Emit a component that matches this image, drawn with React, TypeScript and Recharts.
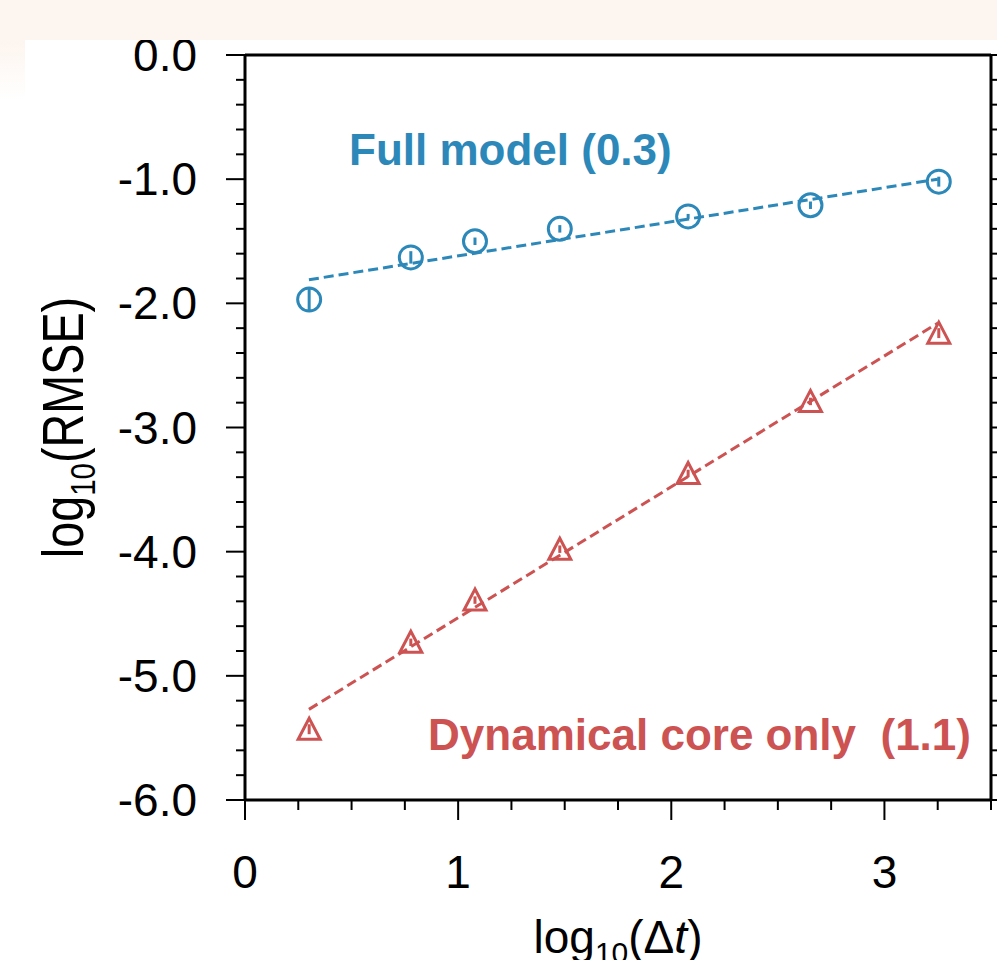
import React from 'react';
import { ComposedChart, Scatter, Line, XAxis, YAxis, ReferenceLine, ReferenceDot, Label, ErrorBar } from 'recharts';

// log10 of the time step for each run
const logDt = [0.301, 0.778, 1.079, 1.477, 2.079, 2.653, 3.255];

// full model
const fullRmse = [-1.97, -1.63, -1.5, -1.4, -1.3, -1.21, -1.02];
const fullErr = [0.09, 0.05, 0.03, 0.03, 0.02, 0.03, 0.04];
const fullFitX = [0.3, 3.25];
const fullFitY = [-1.81, -1.0];

// dynamical core only
const dycoreRmse = [-5.43, -4.73, -4.39, -3.98, -3.37, -2.79, -2.24];
const dycoreErr = [0.04, 0.03, 0.03, 0.03, 0.03, 0.03, 0.04];
const dycoreFitX = [0.3, 3.25];
const dycoreFitY = [-5.27, -2.16];

const xMajorTicks = [0, 1, 2, 3];
const yMajorTicks = [-6, -5, -4, -3, -2, -1, 0];
const xAllTicks = Array.from({ length: 15 }, (_, i) => i * 0.25);
const yAllTicks = Array.from({ length: 31 }, (_, i) => Math.round((-6 + i * 0.2) * 10) / 10);

const BLUE = '#2c88b9';
const RED = '#cd5252';
const FONT = '"Liberation Sans", Arial, Helvetica, sans-serif';

const fullPoints = logDt.map((x, i) => ({ x, y: fullRmse[i], err: fullErr[i] }));
const dycorePoints = logDt.map((x, i) => ({ x, y: dycoreRmse[i], err: dycoreErr[i] }));
const fullFit = fullFitX.map((x, i) => ({ x, y: fullFitY[i] }));
const dycoreFit = dycoreFitX.map((x, i) => ({ x, y: dycoreFitY[i] }));

const isMajor = (v: number, list: number[]) => list.some(m => Math.abs(m - v) < 1e-6);

const XTick = (props: any) => {
  const { x, y, payload } = props;
  const major = isMajor(payload.value, xMajorTicks);
  return (
    <g>
      <line x1={x} x2={x} y1={y} y2={y + (major ? 20 : 10)} stroke="#000" strokeWidth={2} />
      {major && (
        <text x={x} y={y + 88} textAnchor="middle" fontSize={46} fontFamily={FONT} fill="#000">
          {payload.value}
        </text>
      )}
    </g>
  );
};

const YTick = (props: any) => {
  const { x, y, payload } = props;
  const major = isMajor(payload.value, yMajorTicks);
  return (
    <g>
      <line x1={x - (major ? 19 : 9)} x2={x} y1={y} y2={y} stroke="#000" strokeWidth={2} />
      {major && (
        <text x={x - 48} y={y + 16} textAnchor="end" fontSize={46} fontFamily={FONT} fill="#000">
          {Math.abs(payload.value) < 1e-9 ? '0.0' : payload.value.toFixed(1)}
        </text>
      )}
    </g>
  );
};

const RightTick = (props: any) => {
  const { x, y, payload } = props;
  const major = isMajor(payload.value, yMajorTicks);
  return <line x1={x} x2={x + (major ? 19 : 9)} y1={y} y2={y} stroke="#000" strokeWidth={2} />;
};

const CircleMark = (props: any) => (
  <circle cx={props.cx} cy={props.cy} r={11.5} fill="none" stroke={BLUE} strokeWidth={3} />
);

const TriangleMark = (props: any) => {
  const { cx, cy } = props;
  return (
    <polygon
      points={`${cx},${cy - 11} ${cx - 11},${cy + 10} ${cx + 11},${cy + 10}`}
      fill="none"
      stroke={RED}
      strokeWidth={3}
    />
  );
};

const XTitle = (props: any) => {
  const vb = props.viewBox;
  return (
    <text x={vb.x + vb.width / 2} y={vb.y + 153} textAnchor="middle" fontSize={46} fontFamily={FONT} fill="#000">
      log<tspan fontSize={30} dy={10}>10</tspan>
      <tspan dy={-10}>(Δ</tspan>
      <tspan fontStyle="italic">t</tspan>)
    </text>
  );
};

// the y title is drawn taller than it is long in the source, hence the squeeze
const YTitle = (props: any) => {
  const vb = props.viewBox;
  const bx = vb.x + 83;
  const cy = vb.y + vb.height / 2;
  return (
    <text
      x={0}
      y={0}
      transform={`translate(${bx}, ${cy}) rotate(-90) scale(0.82, 1)`}
      textAnchor="middle"
      fontSize={57}
      fontFamily={FONT}
      fill="#000"
    >
      log<tspan fontSize={36} dy={12}>10</tspan>
      <tspan dy={-12}>(RMSE)</tspan>
    </text>
  );
};

const makeNote = (text: string, color: string) => (props: any) => {
  const vb = props.viewBox;
  return (
    <text x={vb.x} y={vb.y} fontSize={44} fontWeight="bold" fontFamily={FONT} fill={color} style={{ whiteSpace: 'pre' }}>
      {text}
    </text>
  );
};

export default function App() {
  return (
    <div style={{ position: 'absolute', left: 0, top: 0, width: 997, height: 960, background: '#fff', overflow: 'hidden' }}>
      <ComposedChart width={997} height={960} margin={{ top: 55, right: 0, bottom: 0, left: 0 }}>
        <XAxis
          dataKey="x"
          type="number"
          domain={[0, 3.5]}
          ticks={xAllTicks}
          interval={0}
          height={160}
          tickSize={0}
          tickMargin={0}
          tick={<XTick />}
          axisLine={{ stroke: '#000', strokeWidth: 3 }}
          allowDataOverflow
        >
          <Label content={<XTitle />} />
        </XAxis>
        <YAxis
          dataKey="y"
          type="number"
          domain={[-6, 0]}
          ticks={yAllTicks}
          interval={0}
          width={245}
          tickSize={0}
          tickMargin={0}
          tick={<YTick />}
          axisLine={{ stroke: '#000', strokeWidth: 3 }}
          allowDataOverflow
        >
          <Label content={<YTitle />} />
        </YAxis>
        <YAxis
          yAxisId="right"
          orientation="right"
          type="number"
          domain={[-6, 0]}
          ticks={yAllTicks}
          interval={0}
          width={6}
          tickSize={0}
          tickMargin={0}
          tick={<RightTick />}
          axisLine={{ stroke: '#000', strokeWidth: 3 }}
          allowDataOverflow
        />
        <ReferenceLine y={0} stroke="#000" strokeWidth={3} />

        <Line data={fullFit} dataKey="y" stroke={BLUE} strokeWidth={3} strokeDasharray="10 5" dot={false} isAnimationActive={false} />
        <Line data={dycoreFit} dataKey="y" stroke={RED} strokeWidth={3} strokeDasharray="10 5" dot={false} isAnimationActive={false} />

        <Scatter data={fullPoints} shape={<CircleMark />} isAnimationActive={false}>
          <ErrorBar dataKey="err" direction="y" width={0} stroke={BLUE} strokeWidth={3} isAnimationActive={false} />
        </Scatter>
        <Scatter data={dycorePoints} shape={<TriangleMark />} isAnimationActive={false}>
          <ErrorBar dataKey="err" direction="y" width={0} stroke={RED} strokeWidth={3} isAnimationActive={false} />
        </Scatter>

        <ReferenceDot x={0.488} y={-0.886} r={0} label={{ content: makeNote('Full model (0.3)', BLUE) }} />
        <ReferenceDot x={0.859} y={-5.596} r={0} label={{ content: makeNote('Dynamical core only  (1.1)', RED) }} />
      </ComposedChart>
      <div style={{ position: 'absolute', left: 0, top: 0, width: 997, height: 40, background: '#fdf5ef' }} />
      <div style={{ position: 'absolute', left: 0, top: 40, width: 25, height: 60, background: 'linear-gradient(#fdf5ef, #ffffff)' }} />
    </div>
  );
}
